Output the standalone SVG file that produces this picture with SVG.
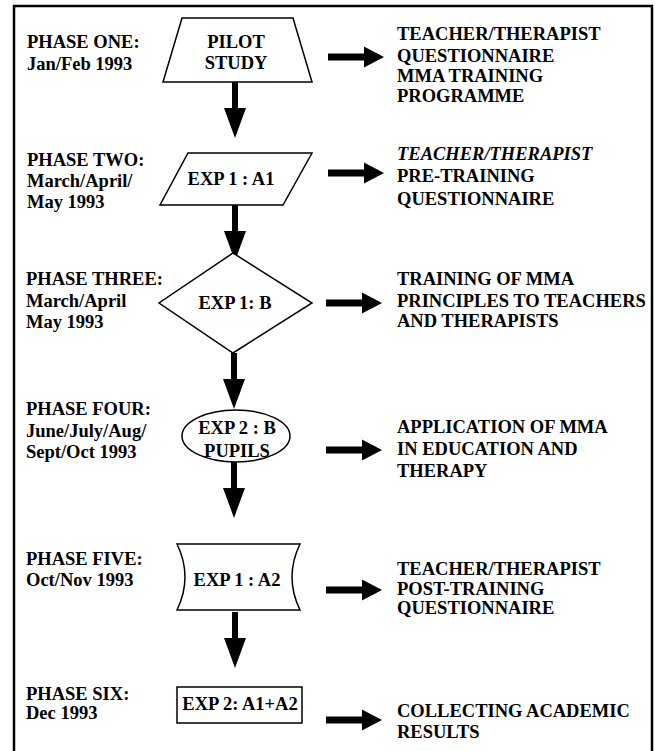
<svg xmlns="http://www.w3.org/2000/svg" width="655" height="751" viewBox="0 0 655 751" font-family="'Liberation Serif', 'DejaVu Serif', serif">
<defs>
<style>
text{font-family:'Liberation Serif','DejaVu Serif',serif;font-weight:bold;font-size:18.5px;fill:#000}
.c{text-anchor:middle}
.shape{fill:#fff;stroke:#000;stroke-width:1.5}
</style>
<g id="down"><path d="M-3,0 H3 V26 H11 L0,56 L-11,26 H-3 Z" fill="#000"/></g>
<g id="right"><path d="M0,-3.5 H36 V-10.5 L56,0 L36,10.5 V3.5 H0 Z" fill="#000"/></g>
</defs>
<rect width="655" height="751" fill="#fff"/>
<path d="M14,760 V6 H652 V760" fill="none" stroke="#000" stroke-width="2.5"/>

<g id="labels">
<text x="27" y="48">PHASE ONE:</text>
<text x="27" y="70">Jan/Feb 1993</text>
<text x="27" y="166">PHASE TWO:</text>
<text x="27" y="187">March/April/</text>
<text x="27" y="208">May 1993</text>
<text x="26" y="285">PHASE THREE:</text>
<text x="26" y="307">March/April</text>
<text x="26" y="328">May 1993</text>
<text x="26" y="415">PHASE FOUR:</text>
<text x="26" y="437">June/July/Aug/</text>
<text x="26" y="458">Sept/Oct 1993</text>
<text x="26" y="565">PHASE FIVE:</text>
<text x="26" y="586">Oct/Nov 1993</text>
<text x="26" y="700">PHASE SIX:</text>
<text x="26" y="719">Dec 1993</text>
</g>

<g id="connectors">
<use href="#down" x="235" y="82"/>
<use href="#down" x="235" y="205"/>
<use href="#down" x="234" y="353"/>
<use href="#down" x="234" y="462"/>
<use href="#down" x="235" y="612"/>
<use href="#right" x="328" y="57"/>
<use href="#right" x="328" y="173"/>
<use href="#right" x="326" y="303"/>
<use href="#right" x="326" y="450"/>
<use href="#right" x="326" y="590"/>
<use href="#right" x="326" y="720"/>
</g>

<g id="pilot">
<path class="shape" d="M182,18 H293 L312,82 H163 Z"/>
<text class="c" x="236" y="48">PILOT</text>
<text class="c" x="236" y="69">STUDY</text>
</g>
<g id="exp1a1">
<path class="shape" d="M188,153 H312 L283,205 H160 Z"/>
<text class="c" x="231" y="185">EXP 1 : A1</text>
</g>
<g id="exp1b">
<path class="shape" d="M233,253 L312,303 L233,353 L159,303 Z"/>
<text class="c" x="235" y="309">EXP 1: B</text>
</g>
<g id="exp2b">
<ellipse class="shape" cx="236" cy="436" rx="54" ry="26"/>
<text class="c" x="237" y="434">EXP 2 : B</text>
<text class="c" x="237" y="457">PUPILS</text>
</g>
<g id="exp1a2">
<path class="shape" d="M177,544 H300 Q284,577 300,610 H177 Q193,577 177,544 Z"/>
<text class="c" x="237" y="586">EXP 1 : A2</text>
</g>
<g id="exp2a1a2">
<rect class="shape" x="177" y="687" width="125" height="36"/>
<text class="c" x="240" y="710">EXP 2: A1+A2</text>
</g>

<g id="outputs">
<text x="397" y="40">TEACHER/THERAPIST</text>
<text x="397" y="62">QUESTIONNAIRE</text>
<text x="397" y="82">MMA TRAINING</text>
<text x="397" y="102">PROGRAMME</text>
<text x="397" y="160" font-style="italic">TEACHER/THERAPIST</text>
<text x="397" y="182">PRE-TRAINING</text>
<text x="397" y="205">QUESTIONNAIRE</text>
<text x="397" y="285">TRAINING OF MMA</text>
<text x="397" y="307">PRINCIPLES TO TEACHERS</text>
<text x="397" y="327">AND THERAPISTS</text>
<text x="397" y="433">APPLICATION OF MMA</text>
<text x="397" y="455">IN EDUCATION AND</text>
<text x="397" y="477">THERAPY</text>
<text x="397" y="575">TEACHER/THERAPIST</text>
<text x="397" y="595">POST-TRAINING</text>
<text x="397" y="614">QUESTIONNAIRE</text>
<text x="397" y="717">COLLECTING ACADEMIC</text>
<text x="397" y="738">RESULTS</text>
</g>
</svg>
